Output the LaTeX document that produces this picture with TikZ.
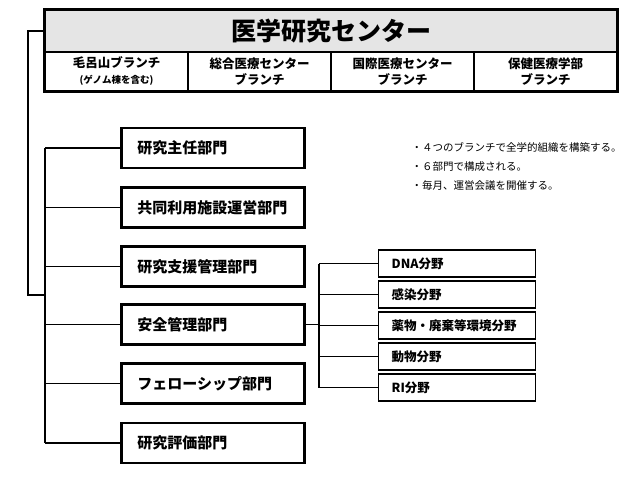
\documentclass[tikz,border=0pt]{standalone}
\usepackage{fontspec}
\setmainfont{Noto Sans CJK JP}
\usepackage{tikz}

\begin{document}
\begin{tikzpicture}[
    x=1pt,y=-1pt,
    conn/.style={line width=1.2pt},
    branch/.style={draw, line width=1.2pt, minimum width=143pt, minimum height=39pt,
      text width=135pt, align=center, inner sep=0pt, font=\bfseries\fontsize{12.5}{16}\selectfont},
    dept/.style={draw, line width=2.8pt, anchor=west, minimum height=40pt, text width=151pt,
      inner xsep=16pt, align=left, font=\bfseries\fontsize{15}{18}\selectfont},
    field/.style={draw, line width=1.3pt, anchor=west, minimum height=27pt, text width=131pt,
      inner xsep=13pt, align=left, font=\bfseries\fontsize{12.5}{15}\selectfont}
    ]
    \useasboundingbox (0,0) rectangle (640,480);
    \node[draw, fill=gray!20, line width=1.2pt, minimum width=572pt, minimum height=42pt,
      inner sep=0pt, font=\bfseries\fontsize{25}{30}\selectfont] (title) at (331,31) {医学研究センター};
    \node[branch] (b1) at (116.5,71.5) {毛呂山ブランチ\\{\fontsize{9.5}{12}\selectfont (ゲノム棟を含む)}};
    \node[branch] (b2) at (259.5,71.5) {総合医療センター\\ブランチ};
    \node[branch] (b3) at (402.5,71.5) {国際医療センター\\ブランチ};
    \node[branch] (b4) at (545.5,71.5) {保健医療学部\\ブランチ};
    \draw[line width=2.8pt] (title.north west) rectangle (b4.south east);

    \node[dept] (d1) at (120,148) {研究主任部門};
    \node[dept] (d2) at (120,207.5) {共同利用施設運営部門};
    \node[dept] (d3) at (120,266.5) {研究支援管理部門};
    \node[dept] (d4) at (120,324.5) {安全管理部門};
    \node[dept] (d5) at (120,383.5) {フェローシップ部門};
    \node[dept] (d6) at (120,443) {研究評価部門};

    \node[field] (f1) at (378,263.5) {DNA分野};
    \node[field] (f2) at (378,294.5) {感染分野};
    \node[field] (f3) at (378,325.5) {薬物・廃棄等環境分野};
    \node[field] (f4) at (378,356.5) {動物分野};
    \node[field] (f5) at (378,387.5) {RI分野};

    \node[anchor=west, align=left, font=\fontsize{10.5}{19}\selectfont] (notes) at (408,166.5)
      {・４つのブランチで全学的組織を構築する。\\・６部門で構成される。\\・毎月、運営会議を開催する。};

    \coordinate (trunk) at (28,0);
    \coordinate (bus) at (45,0);
    \coordinate (join) at (45,295);
    \coordinate (sub) at (319,0);
    \draw[conn] (title.west) -| (trunk |- join) -- (join);
    \draw[conn] (d1.west -| bus) -- (d6.west -| bus);
    \draw[conn] (d1.west) -- (d1.west -| bus);
    \draw[conn] (d2.west) -- (d2.west -| bus);
    \draw[conn] (d3.west) -- (d3.west -| bus);
    \draw[conn] (d4.west) -- (d4.west -| bus);
    \draw[conn] (d5.west) -- (d5.west -| bus);
    \draw[conn] (d6.west) -- (d6.west -| bus);
    \draw[conn] (d4.east) -- (d4.east -| sub);
    \draw[conn] (f1.west -| sub) -- (f5.west -| sub);
    \draw[conn] (f1.west) -- (f1.west -| sub);
    \draw[conn] (f2.west) -- (f2.west -| sub);
    \draw[conn] (f3.west) -- (f3.west -| sub);
    \draw[conn] (f4.west) -- (f4.west -| sub);
    \draw[conn] (f5.west) -- (f5.west -| sub);
  \end{tikzpicture}
\end{document}
